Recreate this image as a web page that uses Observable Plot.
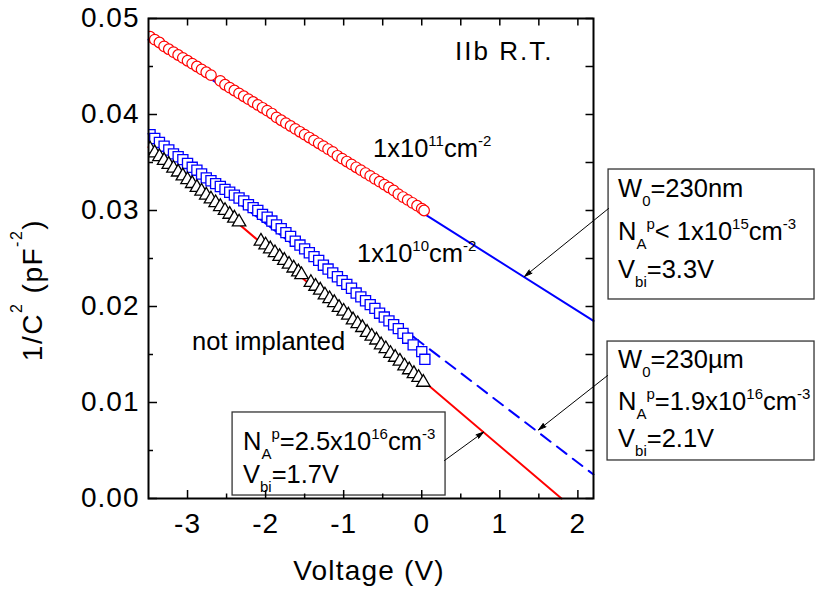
<!DOCTYPE html>
<html><head><meta charset="utf-8">
<script src="https://cdn.jsdelivr.net/npm/d3@7"></script>
<script src="https://cdn.jsdelivr.net/npm/@observablehq/plot@0.6"></script>
<style>
html,body{margin:0;padding:0;background:#fff;}
#chart svg{display:block;}
g[aria-label^="x-axis"] text, g[aria-label^="y-axis"] text {letter-spacing:1px; font-size:28px;}
</style></head><body><div id="chart"></div>
<script>
// ---- data: [voltage (V), 1/C^2 (pF^-2)] ----
const implanted1e11 = [[-3.48,0.0481],[-3.42,0.0478],[-3.36,0.0475],[-3.30,0.0471],[-3.24,0.0468],[-3.18,0.0465],[-3.12,0.0462],[-3.06,0.0459],[-3.00,0.0456],[-2.94,0.0453],[-2.88,0.0450],[-2.82,0.0447],[-2.76,0.0444],[-2.70,0.0441],[-2.58,0.0435],[-2.52,0.0431],[-2.46,0.0428],[-2.40,0.0425],[-2.34,0.0422],[-2.28,0.0419],[-2.22,0.0416],[-2.16,0.0413],[-2.10,0.0410],[-2.04,0.0407],[-1.98,0.0404],[-1.92,0.0401],[-1.86,0.0397],[-1.80,0.0394],[-1.74,0.0391],[-1.68,0.0388],[-1.62,0.0385],[-1.56,0.0382],[-1.50,0.0379],[-1.44,0.0376],[-1.38,0.0373],[-1.32,0.0370],[-1.26,0.0367],[-1.20,0.0364],[-1.14,0.0361],[-1.08,0.0357],[-1.02,0.0354],[-0.96,0.0351],[-0.90,0.0348],[-0.84,0.0345],[-0.78,0.0342],[-0.72,0.0339],[-0.66,0.0336],[-0.60,0.0333],[-0.54,0.0330],[-0.48,0.0327],[-0.42,0.0324],[-0.36,0.0321],[-0.30,0.0317],[-0.24,0.0314],[-0.18,0.0311],[-0.12,0.0308],[-0.06,0.0305],[0.00,0.0302],[0.03,0.0300]];
const implanted1e10 = [[-3.48,0.0379],[-3.42,0.0375],[-3.36,0.0371],[-3.30,0.0367],[-3.24,0.0363],[-3.18,0.0359],[-3.12,0.0356],[-3.06,0.0353],[-3.00,0.0349],[-2.94,0.0345],[-2.88,0.0342],[-2.82,0.0338],[-2.76,0.0334],[-2.70,0.0331],[-2.64,0.0328],[-2.58,0.0325],[-2.52,0.0322],[-2.46,0.0319],[-2.40,0.0316],[-2.34,0.0313],[-2.28,0.0310],[-2.22,0.0306],[-2.16,0.0303],[-2.10,0.0300],[-2.04,0.0296],[-1.98,0.0293],[-1.92,0.0289],[-1.86,0.0285],[-1.80,0.0281],[-1.74,0.0277],[-1.68,0.0273],[-1.62,0.0268],[-1.56,0.0264],[-1.50,0.0260],[-1.44,0.0256],[-1.38,0.0252],[-1.32,0.0248],[-1.26,0.0243],[-1.20,0.0239],[-1.14,0.0235],[-1.08,0.0231],[-1.02,0.0227],[-0.96,0.0223],[-0.90,0.0219],[-0.84,0.0214],[-0.78,0.0210],[-0.72,0.0206],[-0.66,0.0202],[-0.60,0.0198],[-0.54,0.0193],[-0.48,0.0189],[-0.42,0.0185],[-0.36,0.0181],[-0.30,0.0177],[-0.24,0.0172],[-0.18,0.0167],[-0.11,0.0160],[0.00,0.0153],[0.04,0.0145]];
const notImplanted = [[-3.48,0.0364],[-3.42,0.0360],[-3.36,0.0356],[-3.30,0.0352],[-3.24,0.0348],[-3.18,0.0344],[-3.12,0.0340],[-3.06,0.0336],[-3.00,0.0332],[-2.94,0.0328],[-2.88,0.0324],[-2.82,0.0320],[-2.76,0.0316],[-2.70,0.0312],[-2.64,0.0308],[-2.58,0.0304],[-2.52,0.0300],[-2.46,0.0296],[-2.40,0.0292],[-2.34,0.0288],[-2.06,0.0268],[-2.00,0.0264],[-1.94,0.0260],[-1.88,0.0256],[-1.82,0.0252],[-1.76,0.0248],[-1.70,0.0244],[-1.64,0.0240],[-1.58,0.0236],[-1.54,0.0233],[-1.42,0.0225],[-1.36,0.0221],[-1.30,0.0217],[-1.24,0.0212],[-1.18,0.0208],[-1.12,0.0204],[-1.06,0.0199],[-1.00,0.0195],[-0.94,0.0191],[-0.88,0.0186],[-0.82,0.0182],[-0.76,0.0178],[-0.70,0.0173],[-0.64,0.0169],[-0.58,0.0165],[-0.52,0.0160],[-0.46,0.0156],[-0.40,0.0151],[-0.34,0.0147],[-0.28,0.0143],[-0.22,0.0138],[-0.16,0.0134],[-0.10,0.0130],[-0.04,0.0126],[0.02,0.0121]];
// linear fits
const fit1e11 = [[-3.5,0.0478],[2.2,0.0185]];
const fit1e10Solid = [[-3.5,0.0380],[-0.1,0.0168]];
const fit1e10Dash = [[-0.1,0.0168],[2.2,0.0025]];
const fitNot = [[-3.5,0.0366],[1.79,0.0]];
// axes
const xDomain = [-3.5, 2.2];
const yDomain = [0, 0.05];
const xTicks = [-3,-2,-1,0,1,2];
const xMinor = [-2.5,-1.5,-0.5,0.5,1.5];
const yTicks = [0,0.01,0.02,0.03,0.04,0.05];
const yMinor = [0.005,0.015,0.025,0.035,0.045];
// annotation boxes [x1,x2,y1,y2] and leader arrows [x1,y1,x2,y2]
const boxes = [[2.393,5.031,0.03427,0.02073],[2.380,5.031,0.01635,0.00396],[-2.423,0.305,0.00896,0.00031]];
const arrows = [[2.393,0.03021,1.317,0.02313],[2.380,0.01281,1.496,0.00715],[0.292,0.00396,0.792,0.00692]];
// rich text labels: [x, y, parts]
const labels = [
  [0.433,0.04563,[["IIb R.T."]],{ls:2,size:26}],
  [-0.617,0.03552,[["1x10"],["11","sup"],["cm"],["-2","sup"]]],
  [-0.822,0.02458,[["1x10"],["10","sup"],["cm"],["-2","sup"]]],
  [-2.935,0.01542,[["not implanted"]]],
  [2.521,0.03135,[["W"],["0","sub"],["=230nm"]]],
  [2.521,0.02688,[["N"],["A","sub"],["p","sup"],["< 1x10"],["15","sup"],["cm"],["-3","sup"]]],
  [2.521,0.02292,[["V"],["bi","sub"],["=3.3V"]]],
  [2.521,0.01354,[["W"],["0","sub"],["=230µm"]]],
  [2.521,0.00917,[["N"],["A","sub"],["p","sup"],["=1.9x10"],["16","sup"],["cm"],["-3","sup"]]],
  [2.521,0.00531,[["V"],["bi","sub"],["=2.1V"]]],
  [-2.283,0.00500,[["N"],["A","sub"],["p","sup"],["=2.5x10"],["16","sup"],["cm"],["-3","sup"]]],
  [-2.283,0.00156,[["V"],["bi","sub"],["=1.7V"]]]
];
const xLabel = [["Voltage (V)"]];
const yLabel = [["1/C"],["2","sup"],[" (pF"],["-2","sup"],[")"]];

const W = 815, H = 592, mL = 148, mR = 222, mT = 18, mB = 94;
const iw = W - mL - mR, ih = H - mT - mB;

const plot = Plot.plot({
  width: W, height: H,
  marginLeft: mL, marginRight: mR, marginTop: mT, marginBottom: mB,
  style: {fontFamily: "'Liberation Sans', Arial, sans-serif", fontSize: "26px", background: "white", overflow: "visible", color: "black"},
  x: {domain: xDomain, ticks: xTicks, tickFormat: d => String(d), tickSize: 0, tickPadding: 15, label: null},
  y: {domain: yDomain, ticks: yTicks, tickFormat: d3.format(".2f"), tickSize: 0, tickPadding: 9, label: null},
  marks: [
    Plot.line(fit1e11, {x: "0", y: "1", stroke: "#0000ff", strokeWidth: 2}),
    Plot.line(fit1e10Solid, {x: "0", y: "1", stroke: "#0000ff", strokeWidth: 2}),
    Plot.line(fit1e10Dash, {x: "0", y: "1", stroke: "#0000ff", strokeWidth: 2, strokeDasharray: "12,8"}),
    Plot.line(fitNot, {x: "0", y: "1", stroke: "#ff0000", strokeWidth: 2}),
    Plot.dot(implanted1e11, {x: "0", y: "1", r: 5.3, symbol: "circle", stroke: "#ff0000", fill: "white", strokeWidth: 1.2, clip: true}),
    Plot.dot(implanted1e10, {x: "0", y: "1", r: 5.7, symbol: "square", stroke: "#0000ff", fill: "white", strokeWidth: 1.3, clip: true}),
    Plot.dot(notImplanted, {x: "0", y: "1", r: 5, symbol: "triangle", stroke: "black", fill: "white", strokeWidth: 1.3, clip: true}),
    Plot.rect(boxes, {x1: "0", x2: "1", y1: "2", y2: "3", fill: "white", stroke: "#333", strokeWidth: 1.3}),
    Plot.arrow(arrows, {x1: "0", y1: "1", x2: "2", y2: "3", stroke: "black", fill: "black", strokeWidth: 1, headLength: 12, headAngle: 32}),
    // inward ticks
    Plot.ruleX(xTicks, {x: d => d, insetTop: ih - 8, stroke: "black", strokeWidth: 1.5}),
    Plot.ruleX(xMinor, {x: d => d, insetTop: ih - 4.5, stroke: "black", strokeWidth: 1.5}),
    Plot.ruleX(xTicks.concat(xMinor), {x: d => d, insetBottom: ih - 7.5, stroke: "black", strokeWidth: 1.5}),
    Plot.ruleY(yTicks, {y: d => d, insetRight: iw - 9, stroke: "black", strokeWidth: 1.5}),
    Plot.ruleY(yMinor, {y: d => d, insetRight: iw - 5, stroke: "black", strokeWidth: 1.5}),
    Plot.ruleY(yTicks.concat(yMinor), {y: d => d, insetLeft: iw - 7.5, stroke: "black", strokeWidth: 1.5}),
    Plot.frame({stroke: "black", strokeWidth: 2})
  ]
});

const sx = plot.scale("x"), sy = plot.scale("y");
const svg = d3.select(plot);
const g = svg.append("g").attr("fill", "black");

function rich(parent, x, y, parts, o = {}) {
  const size = o.size || 25.5, sub = o.sub || 15, up = o.up ?? 11, down = o.down ?? 9;
  const t = parent.append("text").attr("x", x).attr("y", y)
    .attr("font-size", size).attr("text-anchor", o.anchor || "start");
  if (o.rotate) t.attr("transform", `rotate(${o.rotate},${x},${y})`);
  if (o.ls) t.style("letter-spacing", o.ls + "px");
  let cur = 0;
  for (const [s, k] of parts) {
    const target = k === "sup" ? -up : k === "sub" ? down : 0;
    t.append("tspan").attr("dy", target - cur).attr("font-size", k ? sub : size).text(s);
    cur = target;
  }
  return t;
}

for (const [vx, vy, parts, o] of labels) rich(g, sx.apply(vx), sy.apply(vy), parts, o || {});

const [rx0, rx1] = sx.range;
const [ry0, ry1] = sy.range;
rich(g, (rx0 + rx1) / 2 - 1.5, H - 12, xLabel, {anchor: "middle", size: 28, ls: 1.2});
rich(g, rx0 - 106, (ry0 + ry1) / 2 + 32, yLabel, {anchor: "middle", size: 28, sub: 16, up: 20, ls: 1.5, rotate: -90});

document.getElementById("chart").append(plot);
</script>
</body></html>
